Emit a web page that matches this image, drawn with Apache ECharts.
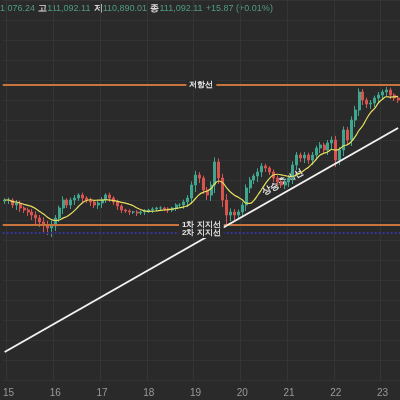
<!DOCTYPE html>
<html>
<head>
<meta charset="utf-8">
<script src="https://cdn.jsdelivr.net/npm/echarts@6/dist/echarts.min.js"></script>
<style>
html, body { margin: 0; padding: 0; background: #2a2a2a; }
#main { width: 400px; height: 400px; }
</style>
</head>
<body>
<div id="main"></div>
<script>
// 2시간봉, 14일 22:00부터
const closes = [
    108800, 108800, 108700, 108740, 108640, 108600, 108560, 108500, 108440, 108360,
    108300, 108240, 108280, 108440, 108640, 108800, 108700, 108800, 108840, 108900,
    108840, 108800, 108760, 108700, 108740, 108800, 108900, 108840, 108760, 108680,
    108600, 108580, 108560, 108560, 108540, 108560, 108580, 108600, 108620, 108640,
    108640, 108620, 108600, 108640, 108700, 108700, 108760, 108840, 109100, 109300,
    109240, 109000, 108900, 109100, 109560, 109240, 108800, 108500, 108560, 108500,
    108560, 108700, 109040, 109200, 109280, 109360, 109480, 109440, 109360, 109240,
    109160, 109100, 109160, 109240, 109500, 109700, 109640, 109700, 109600, 109700,
    109840, 109900, 109800, 109940, 110000, 109600, 109800, 110200, 110000, 110400,
    110600, 110960, 110800, 110720, 110740, 110840, 110900, 110960, 111000, 110900,
    110840, 110800
];
const wicks = [
    60, 80, 60, 100, 80, 60, 80, 100, 120, 100,
    160, 140, 180, 100, 80, 120, 60, 80, 100, 60,
    80, 60, 80, 60, 80, 100, 60, 80, 60, 80,
    60, 40, 60, 40, 60, 40, 60, 40, 60, 40,
    60, 40, 60, 40, 60, 60, 80, 100, 120, 140,
    100, 80, 100, 120, 160, 120, 140, 200, 120, 100,
    80, 100, 120, 100, 80, 120, 100, 80, 60, 80,
    80, 60, 80, 100, 120, 100, 80, 100, 80, 100,
    80, 100, 80, 100, 120, 140, 100, 120, 100, 120,
    140, 120, 100, 80, 100, 80, 100, 80, 100, 80,
    60, 60
];
const firstOpen = 108780;
const resistance = 111100;
const support1 = 108300;
const support2 = 108140;
const trendStart = 105760;
const trendEnd = 110240;
const maPeriod = 8;

// 카테고리 (2시간 간격)
const categories = [];
let t = new Date(2024, 0, 14, 22);
for (let i = 0; i < closes.length; i++) {
    categories.push(t.getDate() + '-' + t.getHours());
    t = new Date(t.getTime() + 2 * 3600 * 1000);
}

const kdata = closes.map(function (c, i) {
    const o = i === 0 ? firstOpen : closes[i - 1];
    return [o, c, Math.min(o, c) - wicks[i], Math.max(o, c) + wicks[i] * 0.6];
});

const ma = closes.map(function (c, i) {
    const s = Math.max(0, i - maPeriod + 1);
    const part = closes.slice(s, i + 1);
    return Math.round(part.reduce(function (a, b) { return a + b; }, 0) / part.length);
});

const isDayStart = function (i, v) { return v.split('-')[1] === '0'; };

const lineLabel = function (text) {
    return { formatter: text, position: 'insideMiddle', distance: 0 };
};

const chart = echarts.init(document.getElementById('main'));
chart.setOption({
    backgroundColor: '#2a2a2a',
    animation: false,
    grid: { left: 0, right: 0, top: 0, bottom: 20 },
    xAxis: {
        type: 'category',
        data: categories,
        axisLine: { show: false },
        axisTick: { show: false },
        axisLabel: {
            interval: isDayStart,
            color: '#9a9a9a',
            fontSize: 10,
            formatter: function (v) { return v.split('-')[0]; }
        },
        splitLine: { show: true, interval: isDayStart, lineStyle: { color: '#353535' } }
    },
    yAxis: {
        type: 'value',
        min: 105200,
        max: 112800,
        interval: 400,
        axisLabel: { show: false },
        axisLine: { show: false },
        axisTick: { show: false },
        splitLine: { lineStyle: { color: '#333333' } }
    },
    series: [
        {
            type: 'candlestick',
            data: kdata,
            barWidth: 2.5,
            itemStyle: {
                color: '#3fa58f', color0: '#d9534f',
                borderColor: '#3fa58f', borderColor0: '#d9534f', borderWidth: 1
            },
            markLine: {
                symbol: 'none',
                silent: true,
                data: [
                    { yAxis: resistance, lineStyle: { color: '#c8743e', width: 2, type: 'solid' },
                      label: lineLabel('저항선') },
                    { yAxis: support1, lineStyle: { color: '#c8743e', width: 2, type: 'solid' },
                      label: lineLabel('1차 지지선') },
                    { yAxis: support2, lineStyle: { color: '#34349a', width: 2, type: 'dotted' },
                      label: lineLabel('2차 지지선') },
                    [
                        { coord: [0, trendStart], lineStyle: { color: '#f2f2f2', width: 2, type: 'solid' }, label: { show: false } },
                        { coord: [closes.length - 1, trendEnd] }
                    ]
                ],
                label: {
                    color: '#e8e8e8',
                    fontSize: 8,
                    fontWeight: 'bold',
                    backgroundColor: '#2a2a2a',
                    padding: [1, 3]
                }
            }
        },
        {
            type: 'line',
            data: ma,
            symbol: 'none',
            smooth: true,
            lineStyle: { color: '#e6e060', width: 1.2 }
        }
    ],
    graphic: [
        {
            type: 'text', left: 0, top: 3,
            style: {
                text: '{n|1,076.24} {k|고}{n|111,092.11} {k|저}{n|110,890.01} {k|종}{n|111,092.11} {n|+15.87 (+0.01%)}',
                rich: {
                    n: { fill: '#4f9a86', fontSize: 9 },
                    k: { fill: '#d8d8d8', fontSize: 9, fontWeight: 'bold' }
                }
            }
        },
        {
            type: 'text', x: 285, y: 186, rotation: 0.51,
            style: {
                text: '상승추세선', fill: '#e8e8e8', fontSize: 9, fontWeight: 'bold',
                align: 'center', verticalAlign: 'bottom',
                stroke: '#2a2a2a', lineWidth: 2
            }
        }
    ]
});
</script>
</body>
</html>
